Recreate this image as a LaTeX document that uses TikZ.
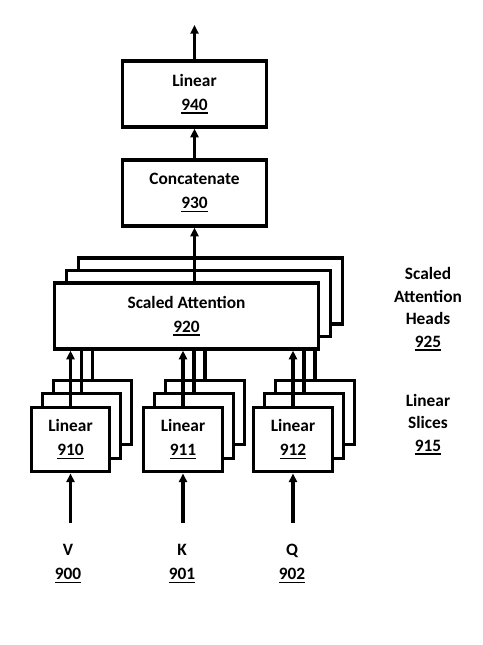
\documentclass[tikz,border=0pt]{standalone}
\usepackage{fontspec}
\setmainfont{Carlito}[BoldFont={Carlito Bold}]
\usetikzlibrary{arrows.meta, positioning}

\newcommand{\refnum}[1]{\setbox0\hbox{#1}\rlap{\rule[-2.6pt]{\wd0}{1.3pt}}\box0}

\begin{document}
\begin{tikzpicture}[x=0.75pt, y=-0.75pt, >={Triangle[length=6.5pt,width=6pt]}, line width=2.4pt,
    blk/.style={draw, fill=white, inner sep=0pt, align=center, font=\bfseries\fontsize{13}{18}\selectfont},
    wide/.style={blk, minimum width=108.5pt, minimum height=49.5pt},
    sabox/.style={blk, minimum width=198.5pt, minimum height=49.5pt},
    slice/.style={blk, minimum width=59pt, minimum height=48.5pt},
    lbl/.style={align=center, inner sep=0pt, font=\bfseries\fontsize{13}{18}\selectfont},
    side/.style={align=center, inner sep=0pt, font=\bfseries\fontsize{13}{17}\selectfont}]
    \useasboundingbox (0,0) rectangle (482,645);

    \node[wide] (lin940) at (194.5,94) {Linear\\\refnum{940}};
    \node[wide] (cat930) at (194.5,193) {Concatenate\\\refnum{930}};

    % attention heads, back to front
    \node[sabox] (sa3) at (210.5,291) {};
    \node[sabox] (sa2) at (198.5,303.5) {};
    \node[sabox] (sa920) at (186.5,316) {Scaled Attention\\\refnum{920}};

    % linear slices for V, K, Q
    \foreach \x/\n in {70.5/910, 183/911, 293/912} {
        \node[slice] (c\n) at (\x+22,412.5) {};
        \node[slice] (b\n) at (\x+11,426) {};
        \node[slice] (lin\n) at (\x,439.5) {Linear\\\refnum{\n}};
        \draw[->] (lin\n.north) -- (lin\n.north |- sa920.south);
        \draw (b\n.north) -- (b\n.north |- sa920.south);
        \draw (c\n.north) -- (c\n.north |- sa920.south);
    }

    \node[lbl] (v900) at (68,564) {V\\\refnum{900}};
    \node[lbl] (k901) at (182,564) {K\\\refnum{901}};
    \node[lbl] (q902) at (292,564) {Q\\\refnum{902}};
    \coordinate (vin) at (70.5,523);
    \coordinate (kin) at (183,523);
    \coordinate (qin) at (293,523);
    \draw[->] (vin) -- (lin910.south);
    \draw[->] (kin) -- (lin911.south);
    \draw[->] (qin) -- (lin912.south);

    \draw[->] (cat930.south |- sa920.north) -- (cat930.south);
    \draw[->] (cat930.north) -- (lin940.south);
    \coordinate (out) at (194.5,25);
    \draw[->] (lin940.north) -- (out);

    \node[side] (heads925) at (428,309) {Scaled\\Attention\\Heads\\\refnum{925}};
    \node[side] (slices915) at (428,424.5) {Linear\\Slices\\\refnum{915}};
\end{tikzpicture}
\end{document}
